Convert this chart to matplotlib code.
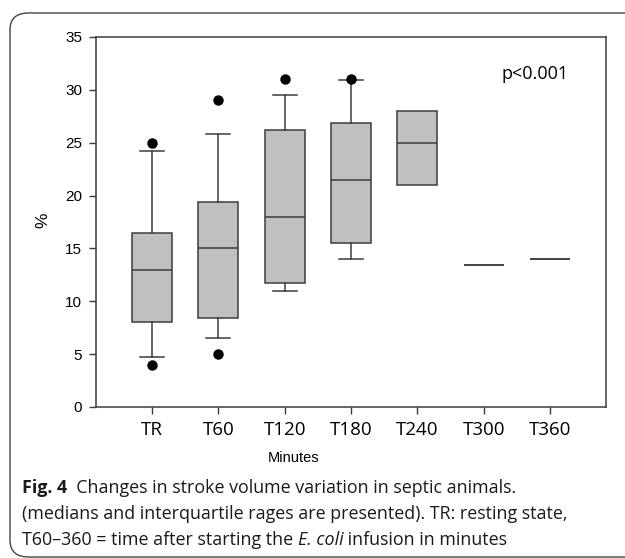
import matplotlib
matplotlib.use("Agg")
import matplotlib.pyplot as plt
from matplotlib.patches import FancyBboxPatch

# values (stroke volume variation, %)
groups = ["TR", "T60", "T120", "T180", "T240", "T300", "T360"]
q1 = [8.0, 8.4, 11.7, 15.5, 21.0, 13.45, 14.0]
med = [13.0, 15.0, 18.0, 21.5, 25.0, 13.45, 14.0]
q3 = [16.5, 19.4, 26.2, 26.9, 28.0, 13.45, 14.0]
whislo = [4.7, 6.5, 11.0, 14.0, 21.0, 13.45, 14.0]
whishi = [24.2, 25.8, 29.5, 30.9, 28.0, 13.45, 14.0]
outliers = [[25.0, 4.0], [29.0, 5.0], [31.0], [31.0], [], [], []]

line_col = "#3c3c3c"
box_col = "#c0c0c0"

fig = plt.figure(figsize=(6.25, 5.58), dpi=100)

# rounded frame around figure + caption
frame = FancyBboxPatch((10 / 625, 1 / 558), 640 / 625, 544 / 558,
                       boxstyle="round,pad=0,rounding_size=0.03",
                       transform=fig.transFigure, fill=False,
                       edgecolor="#444444", linewidth=1.0)
fig.patches.append(frame)

ax = fig.add_axes([96 / 625, 1 - 407 / 558, 510 / 625, 370 / 558])

stats = []
for i, g in enumerate(groups):
    stats.append(dict(label=g, q1=q1[i], med=med[i], q3=q3[i],
                      whislo=whislo[i], whishi=whishi[i], fliers=outliers[i]))

res = ax.bxp(stats, positions=range(1, len(groups) + 1), widths=0.6,
             patch_artist=True, showfliers=True,
             boxprops=dict(facecolor=box_col, edgecolor=line_col, linewidth=1.1),
             medianprops=dict(color=line_col, linewidth=1.1),
             whiskerprops=dict(color=line_col, linewidth=1.1),
             capprops=dict(color=line_col, linewidth=1.1),
             capwidths=0.36,
             flierprops=dict(marker="o", markerfacecolor="black",
                             markeredgecolor="black", markersize=6.5))

# no caps where the whisker coincides with the box edge
for i in range(len(groups)):
    if whislo[i] == q1[i]:
        res["caps"][2 * i].set_visible(False)
        res["whiskers"][2 * i].set_visible(False)
    if whishi[i] == q3[i]:
        res["caps"][2 * i + 1].set_visible(False)
        res["whiskers"][2 * i + 1].set_visible(False)

ax.set_xlim(0.155, 7.845)
ax.set_ylim(0, 35)
ax.set_yticks(range(0, 36, 5))
ax.set_xticks(range(1, len(groups) + 1))
ax.set_xticklabels(groups, fontfamily="Open Sans", fontsize=13.5)
for lab in ax.get_yticklabels():
    lab.set_fontfamily("Liberation Sans")
    lab.set_fontsize(11)
ax.tick_params(axis="both", direction="out", length=5, width=1, color=line_col)
ax.tick_params(axis="y", pad=5)
ax.tick_params(axis="x", pad=5)
for s in ax.spines.values():
    s.set_color(line_col)
    s.set_linewidth(1.1)

fig.text(43 / 625, 1 - 220 / 558, "%", rotation=90, ha="center", va="center",
         fontfamily="Liberation Sans", fontsize=12.5)
fig.text(294 / 625, 1 - 458 / 558, "Minutes", ha="center", va="center",
         fontfamily="Liberation Sans", fontsize=10.5)
ax.text(0.927, 0.9, "p<0.001", transform=ax.transAxes, ha="right", va="center",
        fontfamily="Open Sans", fontsize=13)

# caption, drawn piece by piece so bold/italic parts can be mixed
cap_size = 12.9
cap_lines = [
    [("Fig. 4", "bold", "normal"),
     ("  Changes in stroke volume variation in septic animals.", "normal", "normal")],
    [("(medians and interquartile rages are presented). TR: resting state,", "normal", "normal")],
    [("T60\u2013360 = time after starting the ", "normal", "normal"),
     ("E. coli", "normal", "italic"),
     (" infusion in minutes", "normal", "normal")],
]
baselines = [493, 519, 545]

renderer = fig.canvas.get_renderer()
inv = fig.transFigure.inverted()
for parts, yb in zip(cap_lines, baselines):
    x = 22 / 625
    for txt, w, st in parts:
        t = fig.text(x, 1 - yb / 558, txt, ha="left", va="baseline",
                     fontfamily="Open Sans", fontsize=cap_size,
                     fontweight=w, fontstyle=st, color="#1a1a1a")
        bb = t.get_window_extent(renderer=renderer)
        x = inv.transform((bb.x1, bb.y0))[0]

fig.savefig("out.png", dpi=100)
